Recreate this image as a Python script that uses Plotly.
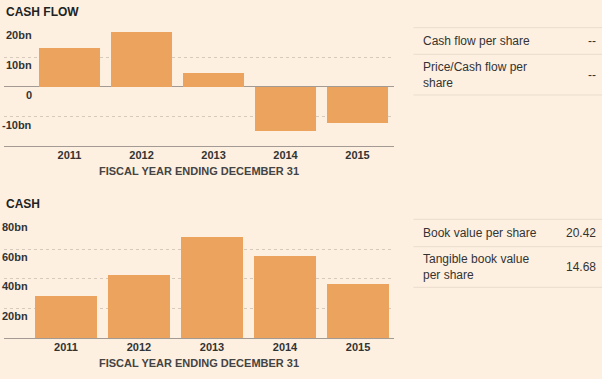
import plotly.graph_objects as go

W, H = 602, 379

years = ["2011", "2012", "2013", "2014", "2015"]
cash_flow_bn = [13.1, 18.2, 4.7, -14.8, -12.1]
cash_bn = [28.5, 42.6, 68.1, 55.4, 36.5]

cf_ticks = [20, 10, 0, -10]
cf_tick_text = ["20bn", "10bn", "0", "-10bn"]
cash_ticks = [80, 60, 40, 20]
cash_tick_text = ["80bn", "60bn", "40bn", "20bn"]

cf_table_labels = ["Cash flow per share", "Price/Cash flow per<br>share"]
cf_table_values = ["--", "--"]
cash_table_labels = ["Book value per share", "Tangible book value<br>per share"]
cash_table_values = ["20.42", "14.68"]

BG = "#fdf0e1"
BAR = "#eca35e"
TXT = "#333333"
GRID = "#d6cabc"
AXIS = "#a39b93"
TLINE = "#eaddcd"
FONT = "Arial, Liberation Sans, sans-serif"


def fx(p):
    return p / W


def fy(p):
    return 1 - p / H


fig = go.Figure()
fig.add_trace(go.Bar(x=list(range(5)), y=cash_flow_bn, marker=dict(color=BAR, line=dict(width=0)),
                     width=0.847, xaxis="x", yaxis="y", hoverinfo="skip"))
fig.add_trace(go.Bar(x=list(range(5)), y=cash_bn, marker=dict(color=BAR, line=dict(width=0)),
                     width=0.85, xaxis="x2", yaxis="y2", hoverinfo="skip"))

xcommon = dict(tickmode="array", tickvals=list(range(5)), ticktext=years, showgrid=False,
               showline=True, linecolor=AXIS, linewidth=1, ticks="", fixedrange=True,
               ticklabelstandoff=-2,
               tickfont=dict(family=FONT, size=11, color=TXT, weight="bold"))
ycommon = dict(showticklabels=False, showgrid=True, gridcolor=GRID, griddash="dot", gridwidth=1,
               ticks="", showline=False, fixedrange=True)

fig.update_layout(
    width=W, height=H, margin=dict(l=0, r=0, t=0, b=0),
    paper_bgcolor=BG, plot_bgcolor=BG, showlegend=False, bargap=0,
    xaxis=dict(domain=[fx(4), fx(394)], range=[-0.91, 4.507], anchor="y", **xcommon),
    yaxis=dict(domain=[fy(146.4), fy(27.3)], range=[-20, 20], tickvals=cf_ticks, anchor="x",
               zeroline=True, zerolinecolor=AXIS, zerolinewidth=1, **ycommon),
    xaxis2=dict(domain=[fx(4), fx(394)], range=[-0.849, 4.493], anchor="y2", **xcommon),
    yaxis2=dict(domain=[fy(338.3), fy(219.3)], range=[0, 80], tickvals=cash_ticks, anchor="x2",
                zeroline=False, **ycommon),
)

ann = []
# section titles
for text, ypix in [("CASH FLOW", 12), ("CASH", 204)]:
    ann.append(dict(text=text, xref="paper", yref="paper", x=fx(4), y=fy(ypix), xanchor="left",
                    yanchor="middle", showarrow=False,
                    font=dict(family=FONT, size=12, color="#222222", weight="bold")))
# axis titles
for ypix in [170.7, 362.7]:
    ann.append(dict(text="FISCAL YEAR ENDING DECEMBER 31", xref="paper", yref="paper", x=fx(199),
                    y=fy(ypix), xanchor="center", yanchor="middle", showarrow=False,
                    font=dict(family=FONT, size=11, color="#444444", weight="bold")))
# y tick labels (below their gridlines, right aligned)
for v, t in zip(cf_ticks, cf_tick_text):
    ann.append(dict(text=t, xref="paper", yref="y", x=fx(33.5), y=v, xanchor="right", yanchor="middle",
                    yshift=-8, showarrow=False,
                    font=dict(family=FONT, size=11, color=TXT, weight="bold")))
for v, t in zip(cash_ticks, cash_tick_text):
    ann.append(dict(text=t, xref="paper", yref="y2", x=fx(29.5), y=v, xanchor="right", yanchor="middle",
                    yshift=-7.5, showarrow=False,
                    font=dict(family=FONT, size=11, color=TXT, weight="bold")))

shapes = []
# right-hand tables
def table(labels, values, lines_y, rows_y):
    for ly in lines_y:
        shapes.append(dict(type="line", xref="paper", yref="paper", x0=fx(413.5), x1=1,
                           y0=fy(ly), y1=fy(ly), line=dict(color=TLINE, width=1)))
    for lab, val, ry in zip(labels, values, rows_y):
        ann.append(dict(text=lab, xref="paper", yref="paper", x=fx(420.5), y=fy(ry), xanchor="left",
                        yanchor="middle", align="left", showarrow=False,
                        font=dict(family=FONT, size=12, color=TXT)))
        ann.append(dict(text=val, xref="paper", yref="paper", x=fx(598), y=fy(ry), xanchor="right",
                        yanchor="middle", showarrow=False,
                        font=dict(family=FONT, size=12, color=TXT)))

table(cf_table_labels, cf_table_values, [27.7, 54.3, 95], [41, 74.5])
table(cash_table_labels, cash_table_values, [219.3, 246.7, 287.3], [232.7, 266.7])

fig.update_layout(annotations=ann, shapes=shapes)
fig.write_html("out.html", config={"displayModeBar": False})

with open("out.html", "r", encoding="utf-8") as f:
    html = f.read()
html = html.replace("<head>", "<head><style>html,body{margin:0;padding:0;overflow:hidden;background:%s;}</style>" % BG, 1)
with open("out.html", "w", encoding="utf-8") as f:
    f.write(html)
